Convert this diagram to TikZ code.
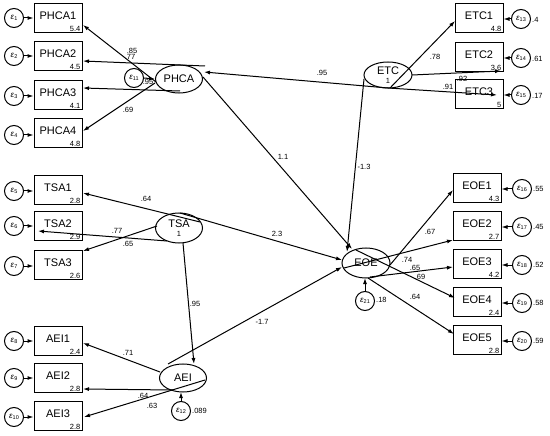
\documentclass[tikz,border=0pt]{standalone}
\usepackage{fontspec}
\setmainfont{Liberation Sans}
\usetikzlibrary{arrows.meta,shapes.geometric}
\tikzset{
  obsbox/.style={draw, line width=1pt, minimum width=48pt, minimum height=29pt, inner sep=0pt},
  obstxt/.style={font=\fontsize{11}{11}\selectfont, inner sep=0pt},
  numlbl/.style={font=\fontsize{7.5}{7.5}\selectfont, inner sep=0pt},
  latent/.style={draw, ellipse, line width=1pt, minimum width=47pt, minimum height=28pt, inner sep=0pt, font=\fontsize{11}{11}\selectfont, align=center},
  errc/.style={draw, circle, line width=1pt, minimum size=19pt, inner sep=0pt, font=\fontsize{8}{8}\selectfont},
  pth/.style={-{Latex[length=6pt,width=4pt]}, line width=1pt},
  elbl/.style={font=\fontsize{7.5}{7.5}\selectfont, inner sep=0pt}
}
\newcommand\mkobs[5]{%
  \node[obsbox] (#1) at (#2,#3) {};
  \node[obstxt] (#1t) at ([yshift=2pt]#1.center) {#4};
  \node[numlbl, anchor=south east] (#1n) at ([shift={(-2pt,1.5pt)}]#1.south east) {#5};
}
\newcommand\mkerr[4]{%
  \node[errc] (#1) at (#2,#3) {\textit{ε}\raisebox{-1.5pt}{\fontsize{5.5}{5.5}\selectfont #4}};
}
\begin{document}
\begin{tikzpicture}[x=1pt,y=-1pt]
\useasboundingbox (0,0) rectangle (550,436);
% observed boxes
\mkobs{PHCAa}{58}{18}{PHCA1}{5.4}
\mkobs{PHCAb}{58}{56}{PHCA2}{4.5}
\mkobs{PHCAc}{58}{95}{PHCA3}{4.1}
\mkobs{PHCAd}{58}{133}{PHCA4}{4.8}
\mkobs{TSAa}{58}{190}{TSA1}{2.8}
\mkobs{TSAb}{58}{226}{TSA2}{2.9}
\mkobs{TSAc}{58}{265}{TSA3}{2.6}
\mkobs{AEIa}{58}{341}{AEI1}{2.4}
\mkobs{AEIb}{58}{378}{AEI2}{2.8}
\mkobs{AEIc}{58}{416}{AEI3}{2.8}
\mkobs{ETCa}{479}{18}{ETC1}{4.8}
\mkobs{ETCb}{479}{57}{ETC2}{3.6}
\mkobs{ETCc}{479}{94}{ETC3}{5}
\mkobs{EOEa}{477}{188}{EOE1}{4.3}
\mkobs{EOEb}{477}{226}{EOE2}{2.7}
\mkobs{EOEc}{477}{264}{EOE3}{4.2}
\mkobs{EOEd}{477}{302}{EOE4}{2.4}
\mkobs{EOEe}{477}{340}{EOE5}{2.8}
% error circles
\mkerr{e1}{14}{18}{1}
\mkerr{e2}{14}{56}{2}
\mkerr{e3}{14}{96}{3}
\mkerr{e4}{14}{135}{4}
\mkerr{e5}{14}{191}{5}
\mkerr{e6}{14}{226}{6}
\mkerr{e7}{14}{266}{7}
\mkerr{e8}{14}{341}{8}
\mkerr{e9}{14}{378}{9}
\mkerr{e10}{14}{417}{10}
\mkerr{e11}{134}{78}{11}
\mkerr{e12}{181}{411}{12}
\mkerr{e13}{521}{19}{13}
\mkerr{e14}{521}{58}{14}
\mkerr{e15}{521}{95}{15}
\mkerr{e16}{522}{189}{16}
\mkerr{e17}{522}{227}{17}
\mkerr{e18}{522}{265}{18}
\mkerr{e19}{522}{303}{19}
\mkerr{e20}{522}{341}{20}
\mkerr{e21}{365}{301}{21}
% latent variables
\node[latent] (PHCA) at (179,79) {PHCA};
\node[latent, minimum width=48pt, minimum height=26pt] (ETC) at (388,75) {ETC\\[-2pt]{\fontsize{7.5}{7.5}\selectfont 1}};
\node[latent, minimum height=30pt] (TSA) at (179,228) {TSA\\[-2pt]{\fontsize{7.5}{7.5}\selectfont 1}};
\node[latent] (AEI) at (183,378) {AEI};
\node[latent, minimum width=48pt, minimum height=30pt] (EOE) at (366,263) {EOE};
% error arrows to boxes
\foreach \e/\b in {e1/PHCAa,e2/PHCAb,e3/PHCAc,e4/PHCAd,e5/TSAa,e6/TSAb,e7/TSAc,e8/AEIa,e9/AEIb,e10/AEIc}
  \draw[pth] (\e.east) -- (\e.east -| \b.west);
\foreach \e/\b in {e13/ETCa,e14/ETCb,e15/ETCc,e16/EOEa,e17/EOEb,e18/EOEc,e19/EOEd,e20/EOEe}
  \draw[pth] (\e.west) -- (\e.west -| \b.east);
\draw[pth] (e11.east) -- (PHCA.west);
\draw[pth] (e12.north) -- ([shift={(-2,14)}]AEI.center);
\draw[pth] (e21.north) -- ([shift={(-1,15)}]EOE.center);
% PHCA loadings
\draw[pth] ([shift={(-23,3)}]PHCA.center) -- ([shift={(25,7)}]PHCAa.center);
\draw[pth] ([shift={(26,-13)}]PHCA.center) -- ([shift={(25,5)}]PHCAb.center);
\draw[pth] ([shift={(1,12)}]PHCA.center) -- ([shift={(25,-7)}]PHCAc.center);
\draw[pth] ([shift={(-24,4)}]PHCA.center) -- ([shift={(25,-2)}]PHCAd.center);
% ETC
\draw[pth] ([shift={(2,13)}]ETC.center) -- ([shift={(-24,3)}]ETCa.center);
\draw[pth] ([shift={(24,0)}]ETC.center) -- ([shift={(22,14)}]ETCb.center);
\draw[pth] ([shift={(0,13)}]ETC.center) -- ([shift={(18,1)}]ETCc.center);
\draw[pth] ([shift={(0,13)}]ETC.center) -- ([shift={(25,-7)}]PHCA.center);
\draw[pth] ([shift={(-24,4)}]ETC.center) -- ([shift={(-19,-11)}]EOE.center);
% PHCA -> EOE
\draw[pth] ([shift={(24,-2)}]PHCA.center) -- ([shift={(-14,-14)}]EOE.center);
% TSA
\draw[pth] ([shift={(21,-6)}]TSA.center) -- ([shift={(25,3)}]TSAa.center);
\draw[pth] ([shift={(-12,13)}]TSA.center) -- ([shift={(-20,5)}]TSAb.center);
\draw[pth] ([shift={(-22,-2)}]TSA.center) -- ([shift={(25,-14)}]TSAc.center);
\draw[pth] ([shift={(4,15)}]TSA.center) -- ([shift={(11,-14)}]AEI.center);
\draw[pth] ([shift={(1,-15)}]TSA.center) -- ([shift={(-24,-3)}]EOE.center);
% AEI
\draw[pth] ([shift={(-23,-6)}]AEI.center) -- ([shift={(25,2)}]AEIa.center);
\draw[pth] ([shift={(-10,12)}]AEI.center) -- ([shift={(25,11)}]AEIb.center);
\draw[pth] ([shift={(22,2)}]AEI.center) -- ([shift={(26,1)}]AEIc.center);
\draw[pth] ([shift={(-15,-14)}]AEI.center) -- ([shift={(-24,4)}]EOE.center);
% EOE
\draw[pth] ([shift={(24,2)}]EOE.center) -- ([shift={(-24,2)}]EOEa.center);
\draw[pth] ([shift={(-22,5)}]EOE.center) -- ([shift={(-24,14)}]EOEb.center);
\draw[pth] ([shift={(4,14)}]EOE.center) -- ([shift={(-24,3)}]EOEc.center);
\draw[pth] ([shift={(-10,-13)}]EOE.center) -- ([shift={(-22,-4)}]EOEd.center);
\draw[pth] ([shift={(2,15)}]EOE.center) -- ([shift={(-23,-6)}]EOEe.center);
% path labels
\node[elbl] (l1) at (132,51) {.85};
\node[elbl] (l2) at (130,57) {.77};
\node[elbl] (l3) at (128,110) {.69};
\node[elbl] (l4) at (148,82) {.95};
\node[elbl] (l5) at (322,73) {.95};
\node[elbl] (l6) at (435,57) {.78};
\node[elbl] (l7) at (462,79) {.92};
\node[elbl] (l8) at (448,87) {.91};
\node[elbl] (l9) at (283,157) {1.1};
\node[elbl] (l10) at (364,167) {-1.3};
\node[elbl] (l11) at (146,199) {.64};
\node[elbl] (l12) at (117,231) {.77};
\node[elbl] (l13) at (128,244) {.65};
\node[elbl] (l14) at (277,234) {2.3};
\node[elbl] (l15) at (195,304) {.95};
\node[elbl] (l16) at (128,353) {.71};
\node[elbl] (l17) at (143,396) {.64};
\node[elbl] (l18) at (152,406) {.63};
\node[elbl] (l19) at (262,322) {-1.7};
\node[elbl] (l20) at (430,232) {.67};
\node[elbl] (l21) at (407,260) {.74};
\node[elbl] (l22) at (415,268) {.65};
\node[elbl] (l23) at (420,277) {.69};
\node[elbl] (l24) at (415,297) {.64};
% variance labels
\node[elbl, anchor=west] (v21) at (376,300) {.18};
\node[elbl, anchor=west] (v12) at (192,411) {.089};
\node[elbl, anchor=west] (v13) at (532,20) {.4};
\node[elbl, anchor=west] (v14) at (532,59) {.61};
\node[elbl, anchor=west] (v15) at (532,96) {.17};
\node[elbl, anchor=west] (v16) at (533,189) {.55};
\node[elbl, anchor=west] (v17) at (533,227) {.45};
\node[elbl, anchor=west] (v18) at (533,265) {.52};
\node[elbl, anchor=west] (v19) at (533,303) {.58};
\node[elbl, anchor=west] (v20) at (533,341) {.59};
\end{tikzpicture}
\end{document}
